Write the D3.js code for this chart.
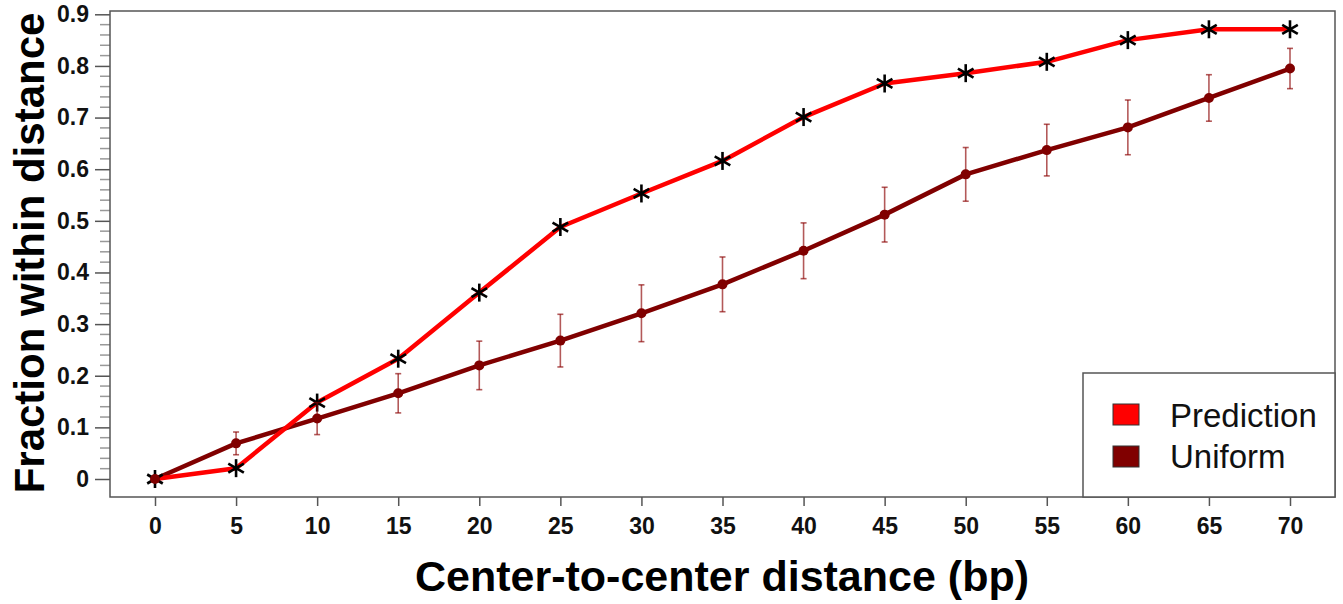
<!DOCTYPE html>
<html>
<head>
<meta charset="utf-8">
<script src="https://cdn.jsdelivr.net/npm/d3@7"></script>
<style>
  html, body { margin: 0; padding: 0; background: #fff; }
  svg { display: block; }
</style>
</head>
<body>
<svg id="chart" width="1343" height="604"></svg>
<script>
// Center-to-center distance (bp)
const distances = [0, 5, 10, 15, 20, 25, 30, 35, 40, 45, 50, 55, 60, 65, 70];
// Fraction of pairs within each distance
const predictionValues = [0.0, 0.021, 0.148, 0.233, 0.361, 0.488, 0.553, 0.616, 0.701, 0.766, 0.786, 0.808, 0.850, 0.871, 0.871];
const uniformValues    = [0.0, 0.069, 0.117, 0.166, 0.220, 0.268, 0.321, 0.377, 0.442, 0.512, 0.590, 0.637, 0.681, 0.738, 0.795];
// Standard deviation of the uniform baseline
const uniformErrors    = [0.0, 0.022, 0.031, 0.038, 0.047, 0.051, 0.055, 0.053, 0.054, 0.053, 0.052, 0.050, 0.053, 0.045, 0.039];
const yTickValues = [0, 0.1, 0.2, 0.3, 0.4, 0.5, 0.6, 0.7, 0.8, 0.9];
const seriesNames = ["Prediction", "Uniform"];
const seriesColors = ["#ff0000", "#800000"];

const svg = d3.select("#chart");
const frame = { left: 110, right: 1335, top: 11, bottom: 497 };

const x = d3.scaleLinear().domain([0, 70]).range([155, 1290]);
const y = d3.scaleLinear().domain([0, 0.9]).range([479, 14.3]);

const tickFont = "'Liberation Sans', Arial, sans-serif";
const titleFont = "'Liberation Sans', Arial, sans-serif";

// Minor y ticks every 0.02
const minorTicks = d3.range(0, 0.9001, 0.02).filter(v => Math.abs(Math.round(v * 10) - v * 10) > 1e-6);
svg.append("g").selectAll("line").data(minorTicks).join("line")
  .attr("x1", frame.left - 10).attr("x2", frame.left)
  .attr("y1", d => y(d)).attr("y2", d => y(d))
  .attr("stroke", "#999").attr("stroke-width", 1.5);

// Major y axis
const yAxis = svg.append("g")
  .attr("transform", `translate(${frame.left},0)`)
  .call(d3.axisLeft(y).tickValues(yTickValues).tickSize(15).tickPadding(6)
    .tickFormat(d => d === 0 ? "0" : d3.format(".1f")(d)));
yAxis.select(".domain").remove();
yAxis.selectAll(".tick line").attr("stroke", "#555").attr("stroke-width", 1.5);
yAxis.selectAll(".tick text")
  .attr("font-family", tickFont).attr("font-weight", "bold")
  .attr("font-size", 23).attr("fill", "#111");

// x axis
const xAxis = svg.append("g")
  .attr("transform", `translate(0,${frame.bottom})`)
  .call(d3.axisBottom(x).tickValues(distances).tickSize(9).tickPadding(12)
    .tickFormat(d3.format("d")));
xAxis.select(".domain").remove();
xAxis.selectAll(".tick line").attr("stroke", "#555").attr("stroke-width", 1.5);
xAxis.selectAll(".tick text")
  .attr("font-family", tickFont).attr("font-weight", "bold")
  .attr("font-size", 23).attr("fill", "#111");

// Plot frame
svg.append("rect")
  .attr("x", frame.left).attr("y", frame.top)
  .attr("width", frame.right - frame.left).attr("height", frame.bottom - frame.top)
  .attr("fill", "none").attr("stroke", "#555").attr("stroke-width", 1.5);

const line = d3.line().x(d => x(d[0])).y(d => y(d[1]));
const predPts = distances.map((d, i) => [d, predictionValues[i]]);
const unifPts = distances.map((d, i) => [d, uniformValues[i]]);

// Uniform line
svg.append("path").datum(unifPts)
  .attr("d", line).attr("fill", "none")
  .attr("stroke", seriesColors[1]).attr("stroke-width", 4.5)
  .attr("stroke-linejoin", "round");

// Prediction line
svg.append("path").datum(predPts)
  .attr("d", line).attr("fill", "none")
  .attr("stroke", seriesColors[0]).attr("stroke-width", 4.5)
  .attr("stroke-linejoin", "round");

// Asterisk markers on the prediction series
const r = 9;
const star = svg.append("g").selectAll("g").data(predPts).join("g")
  .attr("transform", d => `translate(${x(d[0])},${y(d[1])})`);
[90, 30, -30].forEach(a => {
  const rad = a * Math.PI / 180;
  star.append("line")
    .attr("x1", -r * Math.cos(rad)).attr("y1", -r * Math.sin(rad))
    .attr("x2", r * Math.cos(rad)).attr("y2", r * Math.sin(rad))
    .attr("stroke", "#000").attr("stroke-width", 2.6);
});

// Error bars on the uniform series
const eb = svg.append("g").attr("stroke", "#8b0000").attr("stroke-opacity", 0.65).attr("stroke-width", 1.6);
distances.forEach((d, i) => {
  const e = uniformErrors[i];
  if (e <= 0) return;
  const cx = x(d), y1 = y(uniformValues[i] + e), y2 = y(uniformValues[i] - e);
  eb.append("line").attr("x1", cx).attr("x2", cx).attr("y1", y1).attr("y2", y2);
  eb.append("line").attr("x1", cx - 3).attr("x2", cx + 3).attr("y1", y1).attr("y2", y1);
  eb.append("line").attr("x1", cx - 3).attr("x2", cx + 3).attr("y1", y2).attr("y2", y2);
});

// Uniform dots
svg.append("g").selectAll("circle").data(unifPts).join("circle")
  .attr("cx", d => x(d[0])).attr("cy", d => y(d[1])).attr("r", 5)
  .attr("fill", seriesColors[1]);

// Legend
const legend = svg.append("g");
legend.append("rect")
  .attr("x", 1083).attr("y", 373).attr("width", 1335 - 1083).attr("height", frame.bottom - 373)
  .attr("fill", "#fff").attr("stroke", "#555").attr("stroke-width", 1.5);
seriesNames.forEach((name, i) => {
  legend.append("rect")
    .attr("x", 1113).attr("y", 404 + i * 42).attr("width", 26).attr("height", 21)
    .attr("fill", seriesColors[i]).attr("stroke", "#333").attr("stroke-width", 1);
  legend.append("text")
    .attr("x", 1170).attr("y", 427 + i * 41)
    .attr("font-family", titleFont).attr("font-size", 33).attr("fill", "#111")
    .text(name);
});

// Axis titles
svg.append("text")
  .attr("x", 722).attr("y", 591).attr("text-anchor", "middle")
  .attr("font-family", titleFont).attr("font-weight", "bold").attr("font-size", 43)
  .attr("fill", "#000")
  .text("Center-to-center distance (bp)");

svg.append("text")
  .attr("transform", "translate(44,253) rotate(-90)")
  .attr("text-anchor", "middle")
  .attr("font-family", titleFont).attr("font-weight", "bold").attr("font-size", 42)
  .attr("fill", "#000")
  .text("Fraction within distance");
</script>
</body>
</html>
